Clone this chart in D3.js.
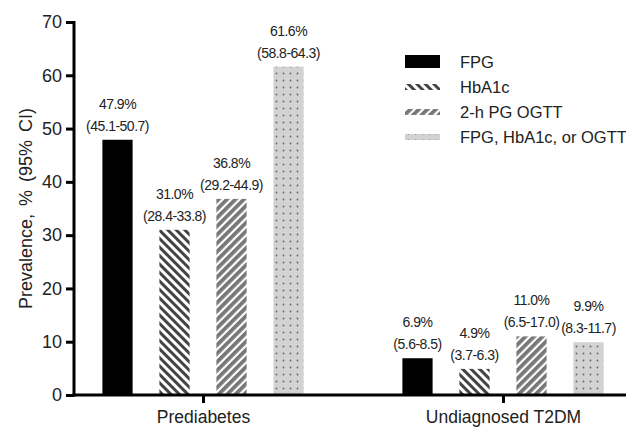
<!DOCTYPE html>
<html>
<head>
<meta charset="utf-8">
<script src="https://cdn.jsdelivr.net/npm/d3@7"></script>
<style>
  body { margin: 0; background: #fff; }
  svg { font-family: Arial, "Liberation Sans", sans-serif; }
</style>
</head>
<body>
<div class="canvas"></div>
<script>
const categories = ['Prediabetes', 'Undiagnosed T2DM'];
const seriesNames = ['FPG', 'HbA1c', '2-h PG OGTT', 'FPG, HbA1c, or OGTT'];
const values = [
    [47.9, 31.0, 36.8, 61.6],
    [6.9, 4.9, 11.0, 9.9]
];
const ciLabels = [
    ['(45.1-50.7)', '(28.4-33.8)', '(29.2-44.9)', '(58.8-64.3)'],
    ['(5.6-8.5)', '(3.7-6.3)', '(6.5-17.0)', '(8.3-11.7)']
];
const yTicks = [0, 10, 20, 30, 40, 50, 60, 70];

const dims = { width: 626, height: 428 };
const margin = { left: 74, top: 22, bottom: 33 };

const svg = d3.select('.canvas')
                .append('svg')
                .attr('width', dims.width)
                .attr('height', dims.height);

// patterns
const defs = svg.append('defs');

const back = defs.append('pattern')
                .attr('id', 'back')
                .attr('patternUnits', 'userSpaceOnUse')
                .attr('width', 6).attr('height', 6)
                .attr('patternTransform', 'rotate(45)');
back.append('rect').attr('width', 6).attr('height', 6).attr('fill', '#fff');
back.append('rect').attr('width', 6).attr('height', 3).attr('fill', '#444');

const fwd = defs.append('pattern')
                .attr('id', 'fwd')
                .attr('patternUnits', 'userSpaceOnUse')
                .attr('width', 6).attr('height', 6)
                .attr('patternTransform', 'rotate(-45)');
fwd.append('rect').attr('width', 6).attr('height', 6).attr('fill', '#fff');
fwd.append('rect').attr('width', 6).attr('height', 3.8).attr('fill', '#777');

const dots = defs.append('pattern')
                .attr('id', 'dots')
                .attr('patternUnits', 'userSpaceOnUse')
                .attr('width', 7).attr('height', 7);
dots.append('rect').attr('width', 7).attr('height', 7).attr('fill', '#d2d2d2');
dots.append('circle').attr('cx', 3.5).attr('cy', 3.5).attr('r', 0.9).attr('fill', '#666');

const fills = ['#000', 'url(#back)', 'url(#fwd)', 'url(#dots)'];

// scales
const y = d3.scaleLinear()
            .domain([0, 70])
            .range([dims.height - margin.bottom, margin.top]);

const x0 = d3.scalePoint()
            .domain(categories)
            .range([margin.left, 632])
            .padding(0.43);

const x1 = d3.scaleBand()
            .domain(seriesNames)
            .range([-114, 114])
            .paddingInner(0.47)
            .paddingOuter(0.235);

// bars
const groups = svg.append('g')
                .selectAll('g')
                .data(categories)
                .enter()
                .append('g')
                .attr('transform', d => `translate(${x0(d)}, 0)`);

groups.each(function(cat, ci) {
    const g = d3.select(this);
    const rows = seriesNames.map((s, si) => ({ s, si, v: values[ci][si], ci: ciLabels[ci][si] }));

    g.selectAll('rect')
        .data(rows)
        .enter()
        .append('rect')
        .attr('x', d => x1(d.s))
        .attr('y', d => y(d.v))
        .attr('width', x1.bandwidth())
        .attr('height', d => y(0) - y(d.v))
        .attr('fill', d => fills[d.si]);

    const lbl = g.selectAll('text.lbl')
        .data(rows)
        .enter()
        .append('text')
        .attr('class', 'lbl')
        .attr('text-anchor', 'middle')
        .attr('font-size', 14)
        .attr('letter-spacing', -0.5)
        .attr('fill', '#222');
    lbl.append('tspan')
        .attr('x', d => x1(d.s) + x1.bandwidth() / 2)
        .attr('y', d => y(d.v) - 31)
        .text(d => d.v.toFixed(1) + '%');
    lbl.append('tspan')
        .attr('x', d => x1(d.s) + x1.bandwidth() / 2)
        .attr('y', d => y(d.v) - 9)
        .text(d => d.ci);
});

// y axis
const yAxis = d3.axisLeft(y)
                .tickValues(yTicks)
                .tickSize(8)
                .tickPadding(4);

const yG = svg.append('g')
            .attr('transform', `translate(${margin.left}, 0)`)
            .call(yAxis);
yG.select('.domain').attr('stroke-width', 3).attr('d', `M0,${y(70) - 1}V${y(0) + 1.5}`);
yG.selectAll('.tick line').attr('stroke-width', 3);
yG.selectAll('text').attr('font-size', 18).attr('font-family', 'Arial, "Liberation Sans", sans-serif').attr('fill', '#222');

// x axis
const xAxis = d3.axisBottom(x0)
                .tickSize(8)
                .tickPadding(8);

const xG = svg.append('g')
            .attr('transform', `translate(0, ${y(0)})`)
            .call(xAxis);
xG.select('.domain').attr('stroke-width', 3).attr('d', `M${margin.left - 1.5},0H${dims.width}`);
xG.selectAll('.tick line').attr('stroke-width', 3);
xG.selectAll('text').attr('font-size', 17.5).attr('font-family', 'Arial, "Liberation Sans", sans-serif').attr('fill', '#222');

// y label
svg.append('text')
    .attr('transform', `translate(32, ${(y(0) + y(70)) / 2}) rotate(-90)`)
    .attr('text-anchor', 'middle')
    .attr('font-size', 18)
    .attr('word-spacing', 3)
    .attr('fill', '#222')
    .text('Prevalence, % (95% CI)');

// legend
const legend = svg.append('g')
                .attr('transform', 'translate(405, 62)');

const items = legend.selectAll('g')
                .data(seriesNames)
                .enter()
                .append('g')
                .attr('transform', (d, i) => `translate(0, ${i * 25})`);

items.append('rect')
    .attr('x', 0)
    .attr('y', (d, i) => i === 0 ? -7 : -3)
    .attr('width', 35)
    .attr('height', (d, i) => i === 0 ? 13 : 6)
    .attr('fill', (d, i) => fills[i]);

items.append('text')
    .attr('x', 55)
    .attr('y', 6)
    .attr('font-size', 16.5)
    .attr('fill', '#222')
    .text(d => d);
</script>
</body>
</html>
